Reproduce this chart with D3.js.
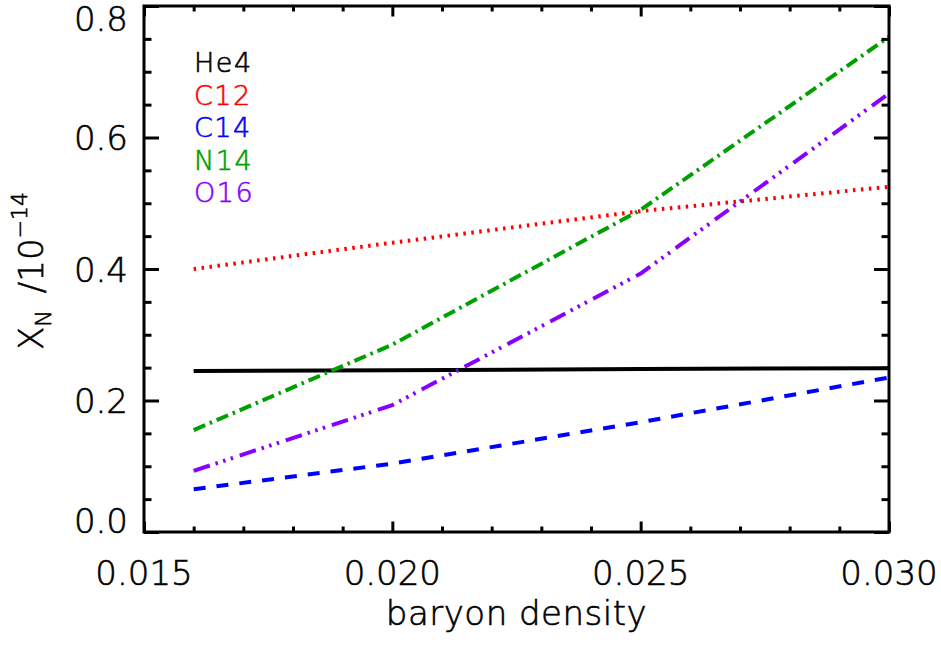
<!DOCTYPE html>
<html>
<head>
<meta charset="utf-8">
<script src="https://cdn.jsdelivr.net/npm/d3@7"></script>
<style>
  html, body { margin: 0; padding: 0; background: #fff; }
  svg { display: block; }
  text { font-family: "DejaVu Sans", sans-serif; font-weight: 200; stroke-width: 0.6px; }
</style>
</head>
<body>
<svg id="chart" width="941" height="646"></svg>
<script>
// ---- data ----
const xValues = [0.016, 0.020, 0.025, 0.030];
const he4 = [0.245, 0.246, 0.248, 0.249];
const c12 = [0.400, 0.440, 0.488, 0.525];
const c14 = [0.065, 0.104, 0.167, 0.235];
const n14 = [0.155, 0.285, 0.490, 0.753];
const o16 = [0.093, 0.193, 0.393, 0.667];
const seriesNames = ["He4", "C12", "C14", "N14", "O16"];
const xTicks = [0.015, 0.020, 0.025, 0.030];
const xTickLabels = ["0.015", "0.020", "0.025", "0.030"];
const yTicks = [0.0, 0.2, 0.4, 0.6, 0.8];
const yTickLabels = ["0.0", "0.2", "0.4", "0.6", "0.8"];

const seriesValues = [he4, c12, c14, n14, o16];
const colors = ["#000000", "#ff0000", "#0000ff", "#00a000", "#8800ff"];
const dashes = [null, "2.5,5.5", "12,11", "12.5,5,2.5,5", "17,6,2.5,5.5,2.5,5.5,2.5,7"];

const svg = d3.select("#chart");
const L = 144, R = 889, T = 6, B = 532;
const x = d3.scaleLinear().domain([0.015, 0.030]).range([L, R]);
const y = d3.scaleLinear().domain([0, 0.8]).range([B, T]);

const axisW = 3;
const xMajLen = 10.5, xMinLen = 5.5;
const yMajLen = 15, yMinLen = 7.5;

// minor tick values
const xMinor = d3.range(16, 30).map(v => v / 1000).filter(v => Math.round(v * 1000) % 5 !== 0);
const yMinor = d3.range(1, 16).map(v => v * 0.05).filter((v, i) => (i + 1) % 4 !== 0);

// series lines
const line = d3.line().x(d => x(d[0])).y(d => y(d[1]));
seriesValues.forEach((vals, i) => {
  svg.append("path")
    .datum(xValues.map((xv, j) => [xv, vals[j]]))
    .attr("d", line)
    .attr("fill", "none")
    .attr("stroke", colors[i])
    .attr("stroke-width", 4)
    .attr("stroke-dasharray", dashes[i])
    .attr("stroke-linecap", "butt")
    .attr("stroke-linejoin", "round");
});

// axes via d3 axis generators (ticks only, labels separate)
function styleAxis(g) {
  g.selectAll(".domain").remove();
  g.selectAll("line").attr("stroke", "#000").attr("stroke-width", axisW);
  g.selectAll("text").remove();
}
svg.append("g").attr("transform", `translate(0,${B})`)
  .call(d3.axisTop(x).tickValues(xTicks).tickSize(xMajLen)).call(styleAxis);
svg.append("g").attr("transform", `translate(0,${B})`)
  .call(d3.axisTop(x).tickValues(xMinor).tickSize(xMinLen)).call(styleAxis);
svg.append("g").attr("transform", `translate(0,${T})`)
  .call(d3.axisBottom(x).tickValues(xTicks).tickSize(xMajLen)).call(styleAxis);
svg.append("g").attr("transform", `translate(0,${T})`)
  .call(d3.axisBottom(x).tickValues(xMinor).tickSize(xMinLen)).call(styleAxis);
svg.append("g").attr("transform", `translate(${L},0)`)
  .call(d3.axisRight(y).tickValues(yTicks).tickSize(yMajLen)).call(styleAxis);
svg.append("g").attr("transform", `translate(${L},0)`)
  .call(d3.axisRight(y).tickValues(yMinor).tickSize(yMinLen)).call(styleAxis);
svg.append("g").attr("transform", `translate(${R},0)`)
  .call(d3.axisLeft(y).tickValues(yTicks).tickSize(yMajLen)).call(styleAxis);
svg.append("g").attr("transform", `translate(${R},0)`)
  .call(d3.axisLeft(y).tickValues(yMinor).tickSize(yMinLen)).call(styleAxis);

// frame
svg.append("rect")
  .attr("x", L).attr("y", T).attr("width", R - L).attr("height", B - T)
  .attr("fill", "none").attr("stroke", "#000").attr("stroke-width", axisW);

// tick labels
svg.append("g").selectAll("text").data(xTicks).join("text")
  .attr("x", d => x(d)).attr("y", 585)
  .attr("text-anchor", "middle").attr("font-size", 34).attr("fill", "#000").attr("stroke", "#000")
  .text((d, i) => xTickLabels[i]);

svg.append("g").selectAll("text").data(yTicks).join("text")
  .attr("x", 128)
  .attr("y", d => Math.min(B - 12, Math.max(T + 12, y(d))) + 12.5)
  .attr("text-anchor", "end").attr("font-size", 34).attr("fill", "#000").attr("stroke", "#000")
  .text((d, i) => yTickLabels[i]);

// axis titles
svg.append("text")
  .attr("x", (L + R) / 2).attr("y", 625)
  .attr("text-anchor", "middle").attr("font-size", 34).attr("fill", "#000").attr("stroke", "#000")
  .attr("letter-spacing", 0.5)
  .text("baryon density");

const yt = svg.append("text")
  .attr("transform", `translate(43,${(T + B) / 2 + 2}) rotate(-90)`)
  .attr("text-anchor", "middle").attr("font-size", 34).attr("fill", "#000").attr("stroke", "#000");
yt.append("tspan").text("X");
yt.append("tspan").attr("dy", 8).attr("font-size", 22).text("N");
yt.append("tspan").attr("dy", -8).text("\u2002/10");
yt.append("tspan").attr("dy", -16).attr("font-size", 22).text("\u221214");

// legend
svg.append("g").selectAll("text").data(seriesNames).join("text")
  .attr("x", 194).attr("y", (d, i) => 72 + i * 32.6)
  .attr("font-size", 27).attr("letter-spacing", 1.5)
  .attr("fill", (d, i) => colors[i]).attr("stroke", (d, i) => colors[i])
  .text(d => d);
</script>
</body>
</html>
